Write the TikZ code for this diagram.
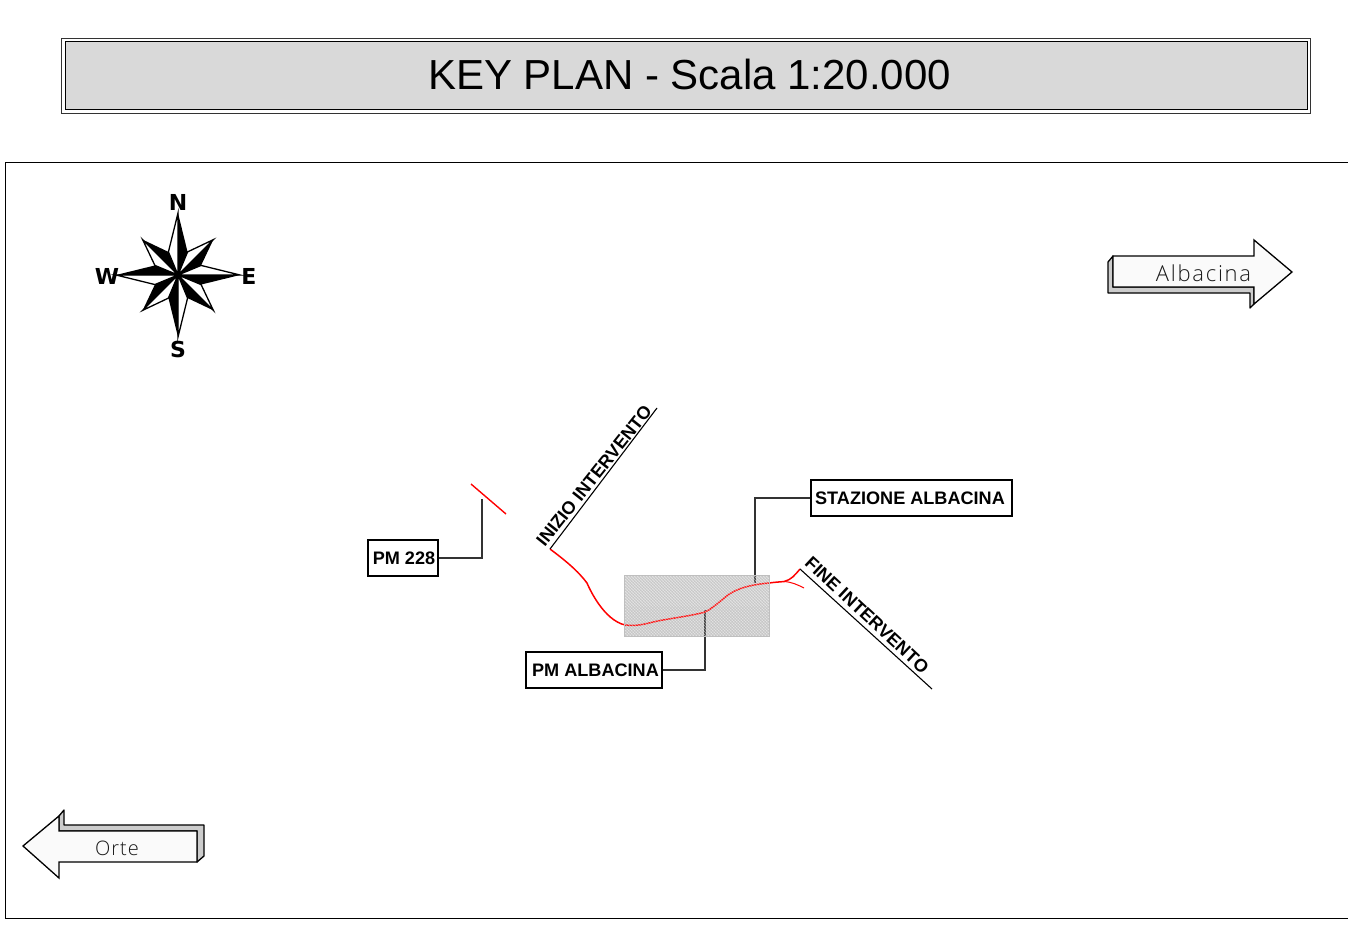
\documentclass[tikz,border=0pt]{standalone}
\usepackage{fontspec}
\setmainfont{Liberation Sans}
\newfontfamily\thinfont{Open Sans Light}
\newfontfamily\compassfont{DejaVu Sans}
\begin{document}
\begin{tikzpicture}[x=1pt,y=-1pt,
  tagbox/.style={draw=black,fill=white,line width=1.1pt,inner sep=0pt,anchor=center},
  tagtext/.style={font=\fontsize{18.1}{20}\selectfont\bfseries,inner sep=0pt},
  leader/.style={draw=black!80,line width=1.1pt},
  redline/.style={draw=red,line width=1.4pt},
  slanted/.style={font=\fontsize{18}{20}\selectfont\bfseries,inner sep=0pt},
  compassletter/.style={font=\fontsize{22}{24}\compassfont\bfseries,inner sep=0pt},
  arrowlabel/.style={font=\fontsize{22}{22}\thinfont,text=black!90,inner sep=0pt},
  shadowface/.style={draw=black,fill=black!20,line width=1.3pt,line join=round},
  frontface/.style={draw=black,fill=black!2,line width=1.3pt,line join=miter}]
\useasboundingbox (0,0) rectangle (1348,925);
\fill[white] (0,0) rectangle (1348,925);
% title
\draw[black!80,line width=.9pt] (61,38) rectangle (1310,113);
\draw[black,fill=black!15,line width=1pt] (65,42) rectangle (1307,110);
\node[inner sep=0pt,font=\fontsize{42}{44}\selectfont] (title) at (689.5,74.5) {KEY PLAN - Scala 1:20.000};
% frame
\draw[black,line width=.9pt] (1348,162) -- (5,162) -- (5,918) -- (1348,918);
% compass
\coordinate (cc) at (178,275);
\foreach \a in {45,135,225,315}{
  \draw[black,line width=1.3pt,line join=miter,fill=white] (cc) -- ({178+25*sin(\a-22.5)},{275-25*cos(\a-22.5)}) -- ({178+50*sin(\a)},{275-50*cos(\a)}) -- cycle;
  \fill[black] (cc) -- ({178+50*sin(\a)},{275-50*cos(\a)}) -- ({178+25*sin(\a+22.5)},{275-25*cos(\a+22.5)}) -- cycle;
}
\foreach \a in {0,90,180,270}{
  \draw[black,line width=1.3pt,line join=miter,fill=white] (cc) -- ({178+25*sin(\a-22.5)},{275-25*cos(\a-22.5)}) -- ({178+62*sin(\a)},{275-62*cos(\a)}) -- cycle;
  \fill[black] (cc) -- ({178+62*sin(\a)},{275-62*cos(\a)}) -- ({178+25*sin(\a+22.5)},{275-25*cos(\a+22.5)}) -- cycle;
}
\node[compassletter] (n) at (178,202) {N};
\node[compassletter] (s) at (178,349) {S};
\node[compassletter] (w) at (107,276) {W};
\node[compassletter] (e) at (249,276) {E};
% direction arrows
\draw[shadowface] (1113,256) -- (1108,262) -- (1108,293) -- (1250,293) -- (1250,308) -- (1254,304) -- (1254,287) -- (1113,287) -- cycle;
\draw[frontface] (1113,256) -- (1254,256) -- (1254,240) -- (1292,272) -- (1254,304) -- (1254,287) -- (1113,287) -- cycle;
\node[arrowlabel] (albacina) at (1203.5,273) {\addfontfeature{LetterSpace=8}Albacina};
\draw[shadowface] (59,816) -- (64,810) -- (64,825) -- (204,825) -- (204,856) -- (197,862) -- (197,831) -- (59,831) -- cycle;
\draw[frontface] (23,846) -- (59,816) -- (59,831) -- (197,831) -- (197,862) -- (59,862) -- (59,878) -- cycle;
\node[arrowlabel,font=\fontsize{20}{22}\thinfont] (orte) at (117,848) {\addfontfeature{LetterSpace=5}Orte};
% shaded area
\fill[black!20] (624,575) rectangle (769,636);
% label boxes
\node[tagbox,minimum width=70pt,minimum height=36pt] (pm228) at (403,558) {};
\node[tagtext] (pm228t) at (404,558.5) {PM 228};
\node[tagbox,minimum width=201pt,minimum height=36pt] (staz) at (911.5,498) {};
\node[tagtext] (stazt) at (910,498.5) {STAZIONE ALBACINA};
\node[tagbox,minimum width=136pt,minimum height=36pt] (pmalb) at (594,670) {};
\node[tagtext] (pmalbt) at (595.5,670) {PM ALBACINA};
% leaders
\coordinate (p228) at (482,499);
\coordinate (pstaz) at (755,583);
\coordinate (ppm) at (705,610);
\draw[leader] (pm228.east) -| (p228);
\draw[leader] (staz.west) -| (pstaz);
\draw[leader] (pmalb.east) -| (ppm);
% track
\coordinate (a1) at (471,484);
\coordinate (a2) at (506,514);
\draw[redline] (a1) -- (a2);
\coordinate (ini) at (550,549);
\coordinate (fin) at (800,569);
\coordinate (fork) at (784,581.5);
\coordinate (fin2) at (804,588);
\draw[redline,line width=1.5pt] (ini) .. controls (566,561) and (578,571) .. (587,583)
  .. controls (590,590) and (604,620) .. (625,625)
  .. controls (640,627) and (650,622) .. (663,620)
  .. controls (680,617) and (695,615) .. (705,612)
  .. controls (716,607) and (726,594) .. (737,590)
  .. controls (746,586) and (758,584) .. (769,583)
  .. controls (776,582) and (780,582) .. (fork)
  .. controls (791,580) and (795,575) .. (fin);
\draw[redline,line width=1pt] (fork) .. controls (792,582) and (798,585) .. (fin2);
% hatch over the shaded area
\begin{scope}
\clip (624,575) rectangle (769,636);
\foreach \i in {0,3,...,210}{
  \draw[white,line width=.8pt,opacity=.45] ({620+\i},640) -- ({620+\i-66},574);
  \draw[black!35,line width=.5pt,opacity=.3] ({555+\i},640) -- ({555+\i+66},574);
}
\end{scope}
\draw[black!25,line width=.8pt] (624,575) rectangle (769,636);
% slanted leaders and labels
\coordinate (initop) at (657,408);
\coordinate (finend) at (932,689);
\draw[black,line width=1.1pt] (ini) -- (initop);
\draw[black,line width=1.1pt] (fin) -- (finend);
\node[slanted,rotate=51.5] (initxt) at (594,476) {INIZIO INTERVENTO};
\node[slanted,rotate=-43] (fintxt) at (867,615) {FINE INTERVENTO};
\end{tikzpicture}
\end{document}
